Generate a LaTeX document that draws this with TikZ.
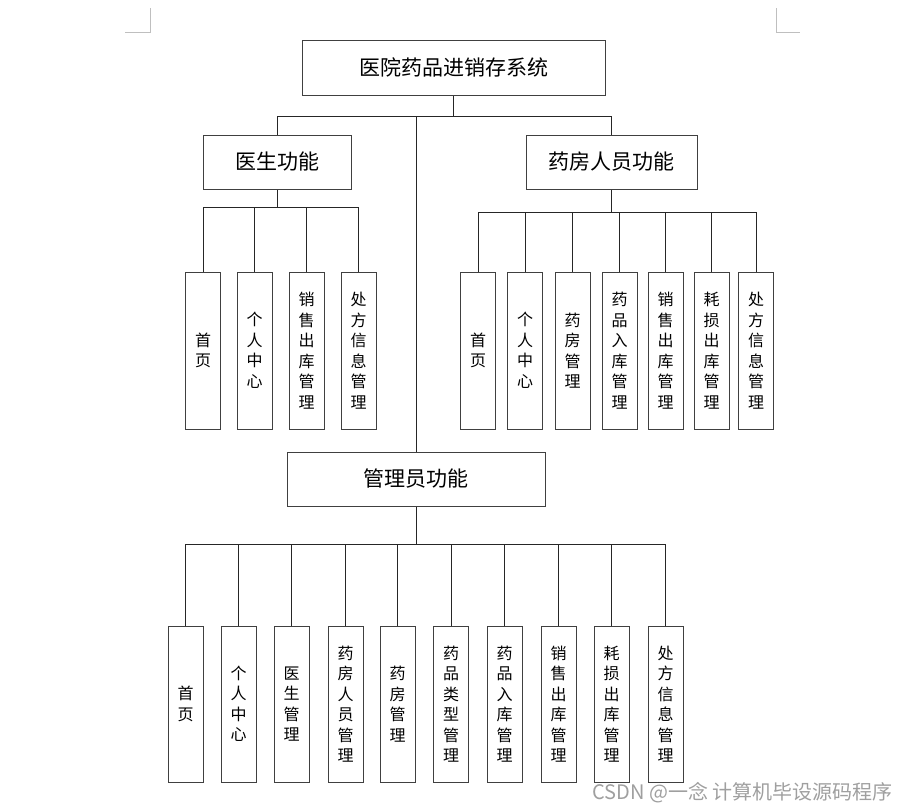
\documentclass[tikz,border=0pt]{standalone}
\usepackage{fontspec}
\setmainfont{Noto Sans CJK SC}
\tikzset{
  headbox/.style={draw=black!75,line width=1pt,minimum height=54,inner sep=0pt,font={\fontsize{21}{25}\selectfont}},
  itembox/.style={draw=black!75,line width=1pt,minimum width=35,minimum height=157,inner sep=0pt,align=center,font={\fontsize{16}{20.5}\selectfont}},
  link/.style={draw=black!85,line width=1pt}
}
\begin{document}
\begin{tikzpicture}[x=1pt,y=-1pt]
\useasboundingbox (0,0) rectangle (907,811);
% page corner marks
\draw[gray!50,line width=0.8pt] (125,32) -- (150,32) -- (150,8);
\draw[gray!50,line width=0.8pt] (776,8) -- (776,32) -- (800,32);
% top levels
\node[headbox,minimum width=303,minimum height=55] (sys) at (453.5,67.5) {医院药品进销存系统};
\node[headbox,minimum width=148] (doc) at (277,162) {医生功能};
\node[headbox,minimum width=171] (phar) at (611.5,162) {药房人员功能};
\node[headbox,minimum width=258] (admin) at (416,479) {管理员功能};
\draw[link] (doc.north) -- ++(0,-18) -| (sys.south);
\draw[link] (phar.north) -- ++(0,-18) -| (sys.south);
\draw[link] (admin.north) -- ++(0,-335) -| (sys.south);
% doctor
\foreach \x/\txt [count=\i] in {203/{首\\页},254.5/{个\\人\\中\\心},306.5/{销\\售\\出\\库\\管\\理},358.5/{处\\方\\信\\息\\管\\理}}
{
  \node[itembox] (d\i) at (\x,350.5) {\txt};
  \draw[link] (d\i.north) -- ++(0,-64) -| (doc.south);
}
% pharmacy staff
\foreach \x/\txt [count=\i] in {478/{首\\页},525/{个\\人\\中\\心},572.5/{药\\房\\管\\理},619.5/{药\\品\\入\\库\\管\\理},665.5/{销\\售\\出\\库\\管\\理},711.5/{耗\\损\\出\\库\\管\\理},756/{处\\方\\信\\息\\管\\理}}
{
  \node[itembox] (p\i) at (\x,350.5) {\txt};
  \draw[link] (p\i.north) -- ++(0,-59) -| (phar.south);
}
% admin
\foreach \x/\txt [count=\i] in {185.5/{首\\页},238.5/{个\\人\\中\\心},291.5/{医\\生\\管\\理},345.5/{药\\房\\人\\员\\管\\理},397.5/{药\\房\\管\\理},451/{药\\品\\类\\型\\管\\理},504.5/{药\\品\\入\\库\\管\\理},558.5/{销\\售\\出\\库\\管\\理},611.5/{耗\\损\\出\\库\\管\\理},665.5/{处\\方\\信\\息\\管\\理}}
{
  \node[itembox,minimum height=156] (a\i) at (\x,704) {\txt};
  \draw[link] (a\i.north) -- ++(0,-81) -| (admin.south);
}
\node[anchor=east,text=gray!75,inner sep=0pt,font={\fontsize{20}{24}\selectfont}] (mark) at (893,793) {CSDN @一念 计算机毕设源码程序};
\end{tikzpicture}
\end{document}
